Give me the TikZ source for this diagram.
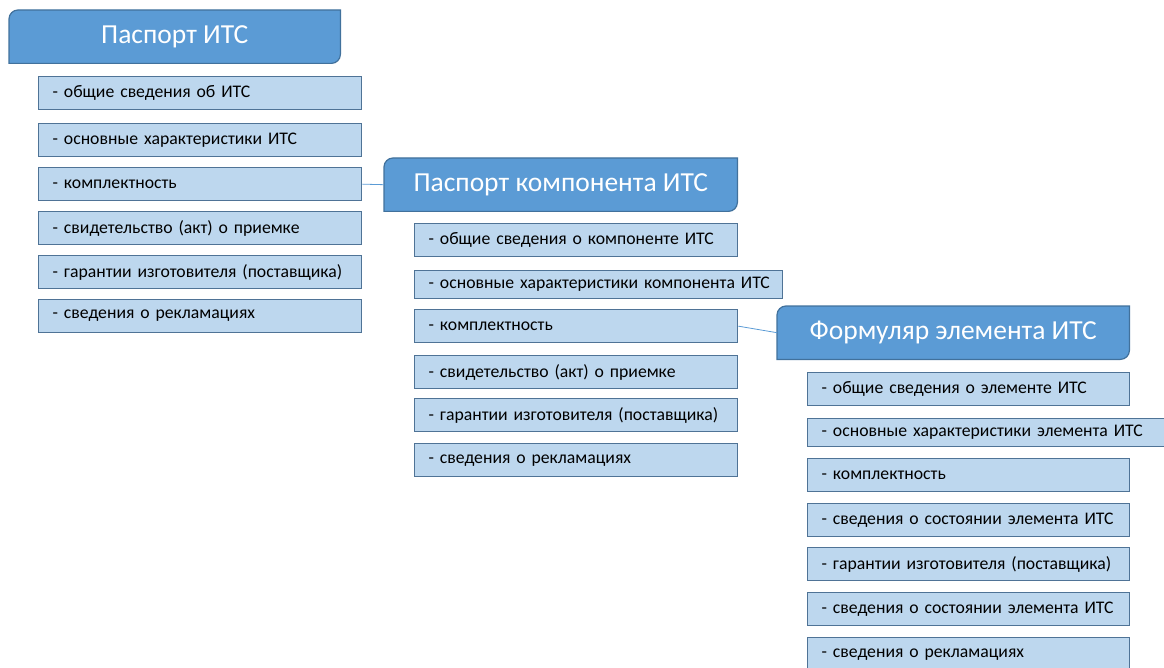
\documentclass[tikz,border=0pt]{standalone}
\usepackage{fontspec}
\setmainfont{Carlito}
\usepackage{tikz}
\usetikzlibrary{positioning}
\usetikzlibrary{backgrounds}

\definecolor{hdrblue}{HTML}{5B9BD5}
\definecolor{hdrline}{HTML}{41719C}
\definecolor{itemfill}{HTML}{BDD7EE}
\definecolor{itemline}{HTML}{4F7396}

\newcommand{\hdrshape}[1]{% diagonal rounded box behind a header node
  \draw[hdrback] (#1.south west) -- ([yshift=-9pt]#1.north west)
    arc[start angle=180, end angle=90, radius=9pt] -- (#1.north east)
    -- ([yshift=9pt]#1.south east)
    arc[start angle=0, end angle=-90, radius=9pt] -- cycle;}

\begin{document}
\begin{tikzpicture}[x=1pt, y=1pt,
	  hdr/.style = {anchor=north west, minimum height=53pt, inner sep=0pt, text=white, font=\fontsize{27.5}{32}\selectfont},
	  hdrback/.style = {fill=hdrblue, draw=hdrline, line width=1.2pt},
	  item/.style = {anchor=north west, draw=itemline, fill=itemfill, line width=1.3pt, minimum height=33pt, inner xsep=14pt, inner ysep=0pt, align=left, font=\fontsize{17.7}{21}\selectfont},
	  wide/.style = {minimum height=28pt},
	  link/.style = {draw=hdrblue, line width=0.8pt}
	]
	  \useasboundingbox (0,0) rectangle (1164,-668);

	  % Паспорт ИТС
	  \node[hdr, minimum width=331pt] (h1) at (9,-10) {Паспорт ИТС};
	  \node[item, text width=295pt] (a1) at (38,-76) {- общие сведения об ИТС};
	  \node[item, text width=295pt] (a2) at (38,-123) {- основные характеристики ИТС};
	  \node[item, text width=295pt] (a3) at (38,-167) {- комплектность};
	  \node[item, text width=295pt] (a4) at (38,-211) {- свидетельство (акт) о приемке};
	  \node[item, text width=295pt] (a5) at (38,-255) {- гарантии изготовителя (поставщика)};
	  \node[item, text width=295pt] (a6) at (38,-299) {- сведения о рекламациях};

	  % Паспорт компонента ИТС
	  \node[hdr, minimum width=353pt] (h2) at (384,-158) {Паспорт компонента ИТС};
	  \node[item, text width=295pt] (b1) at (414,-223) {- общие сведения о компоненте ИТС};
	  \node[item, wide, text width=340pt] (b2) at (414,-270) {\mbox{- основные характеристики компонента ИТС}};
	  \node[item, text width=295pt] (b3) at (414,-309) {- комплектность};
	  \node[item, text width=295pt] (b4) at (414,-355) {- свидетельство (акт) о приемке};
	  \node[item, text width=295pt] (b5) at (414,-398) {- гарантии изготовителя (поставщика)};
	  \node[item, text width=295pt] (b6) at (414,-443) {- сведения о рекламациях};

	  % Формуляр элемента ИТС
	  \node[hdr, minimum width=352pt] (h3) at (777,-306) {Формуляр элемента ИТС};
	  \node[item, text width=294pt] (c1) at (807,-372) {- общие сведения о элементе ИТС};
	  \node[item, wide, text width=337pt] (c2) at (807,-418) {\mbox{- основные характеристики элемента ИТС}};
	  \node[item, text width=294pt] (c3) at (807,-458) {- комплектность};
	  \node[item, text width=294pt] (c4) at (807,-503) {- сведения о состоянии элемента ИТС};
	  \node[item, text width=294pt] (c5) at (807,-547) {- гарантии изготовителя (поставщика)};
	  \node[item, text width=294pt] (c6) at (807,-592) {- сведения о состоянии элемента ИТС};
	  \node[item, text width=294pt] (c7) at (807,-637) {- сведения о рекламациях};

	  \begin{scope}[on background layer]
	    \hdrshape{h1}
	    \hdrshape{h2}
	    \hdrshape{h3}
	  \end{scope}

	  \draw[link] (a3.east) -- (h2.west);
	  \draw[link] (b3.east) -- (h3.west);
	\end{tikzpicture}
\end{document}
